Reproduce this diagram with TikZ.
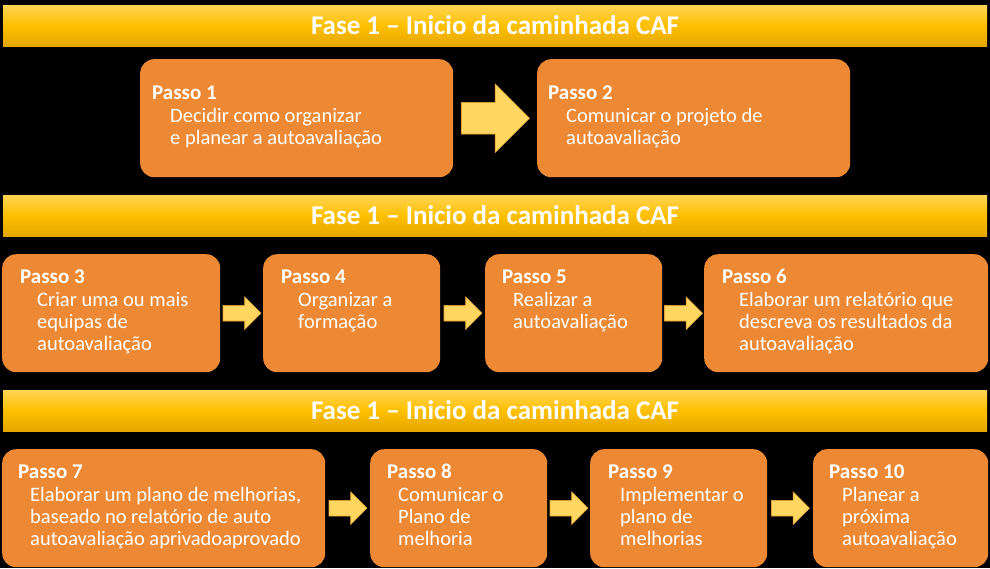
\documentclass[tikz,border=0pt]{standalone}
\usepackage{fontspec}
\setmainfont{Carlito}
\usetikzlibrary{shapes.arrows,calc}

\definecolor{passoorange}{RGB}{237,137,52}
\definecolor{faseyellow}{RGB}{255,192,0}
\definecolor{faselight}{RGB}{255,212,84}
\definecolor{fasedark}{RGB}{228,166,0}
\definecolor{setafill}{RGB}{255,214,95}
\definecolor{setaline}{RGB}{232,162,52}

\tikzset{
  fasebar/.style={minimum width=984, minimum height=41, inner sep=0,
    top color=faselight, bottom color=fasedark, middle color=faseyellow,
    text=white, font=\fontsize{27}{30}\selectfont\bfseries},
  passobox/.style={fill=passoorange, rounded corners=14, minimum height=118,
    anchor=north west, inner sep=0},
  passotext/.style={anchor=base west, inner sep=0, text=white,
    font=\fontsize{20.5}{22}\selectfont},
  seta/.style={single arrow, fill=setafill, draw=setaline, line width=0.6,
    inner xsep=0, inner ysep=7.5, minimum height=38, single arrow head extend=8.5,
    anchor=tail, xshift=-19},
  bigseta/.style={seta, inner ysep=15.5, minimum height=68, single arrow head extend=18.5,
    xshift=-15},
}

% name, x, y, width, number, lines, [indent], [inset], [drop]
\NewDocumentCommand{\passo}{mmmmmmO{17}O{18}O{29}}{%
\node[passobox, minimum width=#4] (#1) at (#2,#3) {};%
\node[passotext] (#1txt) at ([shift={(#8,#9)}]#1.north west)
  {\begin{tabular}[t]{@{\hspace{#7pt}}l@{}}\multicolumn{1}{@{}l@{}}{\bfseries\fontsize{21}{22}\selectfont Passo #5}\\[1pt]#6\end{tabular}};%
}

\begin{document}
\begin{tikzpicture}[x=1pt, y=-1pt]
        \path[use as bounding box, fill=black] (0,0) rectangle (990,568);

        % Fase bars
        \node[fasebar] (fase1) at (495,25.5) {Fase 1 – Inicio da caminhada CAF};
        \node[fasebar] (fase2) at (495,215.5) {Fase 1 – Inicio da caminhada CAF};
        \node[fasebar] (fase3) at (495,410.5) {Fase 1 – Inicio da caminhada CAF};

        % Row 1
        \passo{p1}{140}{59}{313}{1}{Decidir como organizar\\e planear a autoavaliação}[18][12][40]
        \passo{p2}{537}{59}{313}{2}{Comunicar o projeto de\\autoavaliação}[18][11][40]
        \node[bigseta] (s12) at ($(p1.east)!0.5!(p2.west)$) {};

        % Row 2
        \passo{p3}{2}{254}{218}{3}{Criar uma ou mais\\equipas de\\autoavaliação}
        \passo{p4}{263}{254}{177}{4}{Organizar a\\formação}
        \passo{p5}{485}{254}{177}{5}{Realizar a\\autoavaliação}[11][17]
        \passo{p6}{704}{254}{284}{6}{Elaborar um relatório que\\descreva os resultados da\\autoavaliação}
        \node[seta] (s34) at ($(p3.east)!0.5!(p4.west)$) {};
        \node[seta] (s45) at ($(p4.east)!0.5!(p5.west)$) {};
        \node[seta] (s56) at ($(p5.east)!0.5!(p6.west)$) {};

        % Row 3
        \passo{p7}{2}{449}{323}{7}{Elaborar um plano de melhorias,\\baseado no relatório de auto\\autoavaliação aprivadoaprovado}[12][16]
        \passo{p8}{370}{449}{177}{8}{Comunicar o\\Plano de\\melhoria}[11][17]
        \passo{p9}{590}{449}{177}{9}{Implementar o\\plano de\\melhorias}[12][18]
        \passo{p10}{813}{449}{175}{10}{Planear a\\próxima\\autoavaliação}[13][16]
        \node[seta] (s78) at ($(p7.east)!0.5!(p8.west)$) {};
        \node[seta] (s89) at ($(p8.east)!0.5!(p9.west)$) {};
        \node[seta] (s910) at ($(p9.east)!0.5!(p10.west)$) {};
    \end{tikzpicture}
\end{document}
